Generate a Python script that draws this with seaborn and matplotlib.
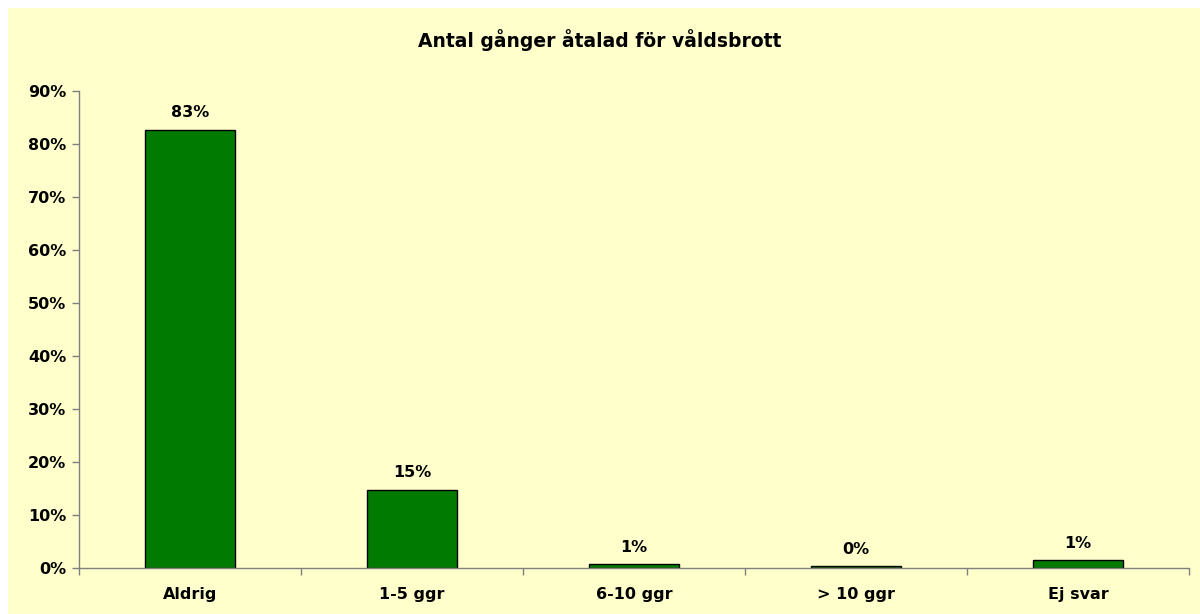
import matplotlib
matplotlib.use('Agg')
import matplotlib.pyplot as plt
import seaborn as sns
import pandas as pd
from matplotlib.patches import Rectangle
from matplotlib.ticker import PercentFormatter, FixedLocator, NullFormatter

# data
categories = ['Aldrig', '1-5 ggr', '6-10 ggr', '> 10 ggr', 'Ej svar']
shares = [0.827, 0.148, 0.007, 0.003, 0.0145]
title = 'Antal gånger åtalad för våldsbrott'

df = pd.DataFrame({'kategori': categories, 'andel': shares})

sns.set_theme(style='white')
# the original text is wide, DejaVu Sans is closer than Arial metrics
plt.rcParams['font.family'] = ['DejaVu Sans']
plt.rcParams['font.weight'] = 'bold'
plt.rcParams['text.color'] = 'black'
plt.rcParams['xtick.color'] = 'black'
plt.rcParams['ytick.color'] = 'black'

fs = 11.5
bg = '#FFFFCC'
fig = plt.figure(figsize=(12, 6.14), dpi=100, facecolor='white')
# yellow chart area (behind the axes)
fig.patches.append(Rectangle((8 / 1200, 0), 1, 1 - 8 / 614, transform=fig.transFigure,
                             facecolor=bg, edgecolor='none', zorder=-1))
ax = fig.add_axes([79 / 1200, 1 - 568 / 614, 1110 / 1200, 477 / 614])
ax.set_facecolor(bg)
ax.patch.set_alpha(0)

sns.barplot(data=df, x='kategori', y='andel', ax=ax, color='#007A00',
            saturation=1, width=0.405, edgecolor='black', linewidth=1)

for p, v in zip(ax.patches, shares):
    ax.text(p.get_x() + p.get_width() / 2, p.get_height() + 0.018, f'{v:.0%}',
            ha='center', va='bottom', fontsize=fs, fontweight='bold', color='black')

ax.set_xlim(-0.5, len(categories) - 0.5)
ax.set_ylim(0, 0.9)
ax.set_yticks([i / 10 for i in range(10)])
ax.yaxis.set_major_formatter(PercentFormatter(1.0, decimals=0))
ax.set_xlabel('')
ax.set_ylabel('')

# ticks at category boundaries on x
ax.xaxis.set_minor_locator(FixedLocator([i - 0.5 for i in range(len(categories) + 1)]))
ax.xaxis.set_minor_formatter(NullFormatter())
ax.tick_params(axis='x', which='major', length=0, pad=14, labelsize=fs)
ax.tick_params(axis='x', which='minor', length=5, width=1, color='#808080', direction='out', bottom=True)
ax.tick_params(axis='y', length=5, width=1, color='#808080', labelcolor='black',
               direction='out', left=True, labelsize=fs, pad=4)
for lab in ax.get_xticklabels() + ax.get_yticklabels():
    lab.set_fontweight('bold')

for s in ['top', 'right']:
    ax.spines[s].set_visible(False)
for s in ['left', 'bottom']:
    ax.spines[s].set_color('#808080')
    ax.spines[s].set_linewidth(1)

fig.text(0.5, 1 - 40 / 614, title, ha='center', va='center', fontsize=13.5, fontweight='bold')

fig.savefig('out.png', dpi=100, facecolor='white')
